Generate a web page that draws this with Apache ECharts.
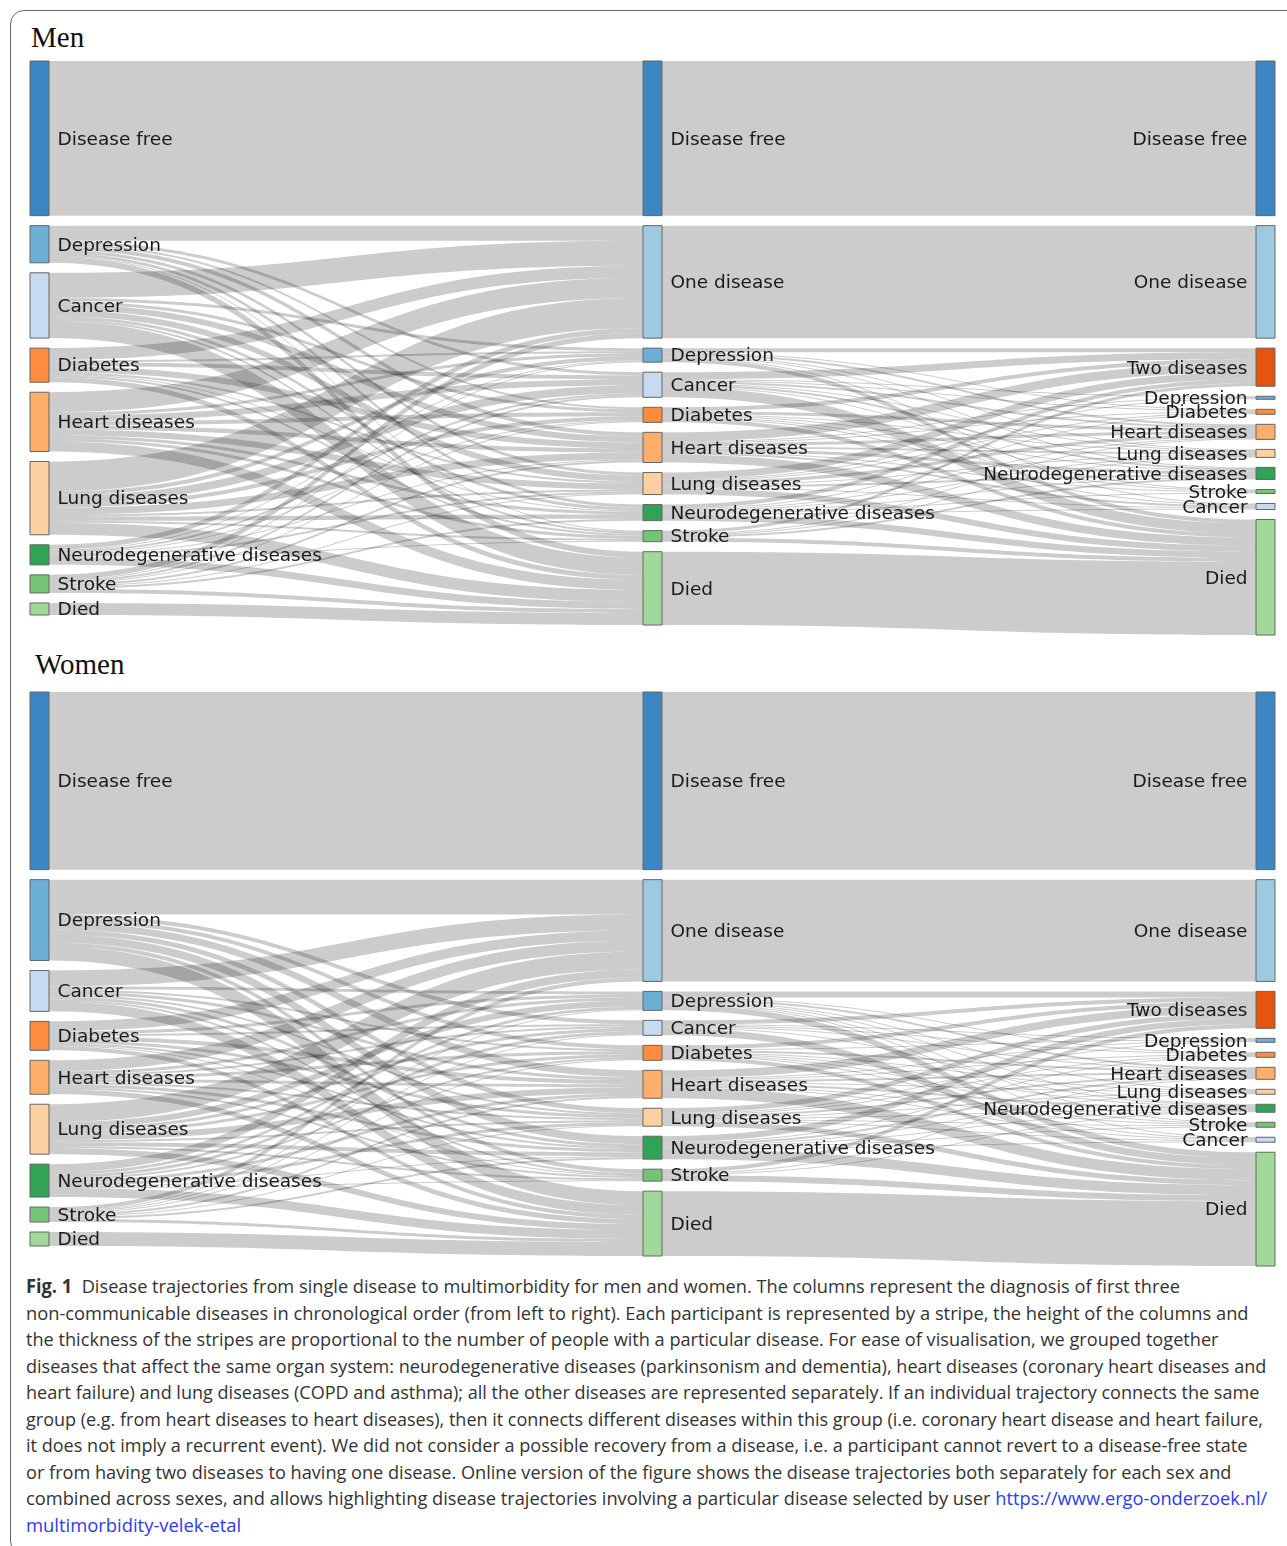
<!DOCTYPE html>
<html lang="en">
<head>
<meta charset="UTF-8">
<title>Disease trajectories</title>
<script src="https://cdn.jsdelivr.net/npm/echarts@6/dist/echarts.min.js"></script>
<style>
    body { margin: 0; background: #fff; width: 1287px; height: 1546px; position: relative; overflow: hidden; }
    .frame { position: absolute; left: 10px; top: 10px; width: 1330px; height: 1545px; border: 1.5px solid #666;
             border-radius: 14px; box-sizing: border-box; }
    .title { position: absolute; font-family: "Liberation Serif", serif; font-size: 29px; color: #111; line-height: 1; }
    #chart { position: absolute; left: 0; top: 0; width: 1287px; height: 1270px; }
    .caption { position: absolute; left: 26px; top: 1273px; font-family: "Open Sans", sans-serif; font-size: 19px;
               line-height: 26.5px; color: #333; white-space: nowrap; }
    .caption div { transform-origin: 0 50%; }
    .caption a { color: #2b3bef; text-decoration: none; }
</style>
</head>
<body>
<div class="frame"></div>
<div class="title" style="left:31px;top:23px">Men</div>
<div class="title" style="left:35px;top:650px">Women</div>
<div id="chart"></div>
<div class="caption" id="caption">
    <div data-w="1154"><span><b>Fig. 1</b>&nbsp; Disease trajectories from single disease to multimorbidity for men and women. The columns represent the diagnosis of first three</span></div>
    <div data-w="1223"><span>non-communicable diseases in chronological order (from left to right). Each participant is represented by a stripe, the height of the columns and</span></div>
    <div data-w="1193"><span>the thickness of the stripes are proportional to the number of people with a particular disease. For ease of visualisation, we grouped together</span></div>
    <div data-w="1240"><span>diseases that affect the same organ system: neurodegenerative diseases (parkinsonism and dementia), heart diseases (coronary heart diseases and</span></div>
    <div data-w="1233"><span>heart failure) and lung diseases (COPD and asthma); all the other diseases are represented separately. If an individual trajectory connects the same</span></div>
    <div data-w="1237"><span>group (e.g. from heart diseases to heart diseases), then it connects different diseases within this group (i.e. coronary heart disease and heart failure,</span></div>
    <div data-w="1221"><span>it does not imply a recurrent event). We did not consider a possible recovery from a disease, i.e. a participant cannot revert to a disease-free state</span></div>
    <div data-w="1205"><span>or from having two diseases to having one disease. Online version of the figure shows the disease trajectories both separately for each sex and</span></div>
    <div data-w="1241"><span>combined across sexes, and allows highlighting disease trajectories involving a particular disease selected by user <a href="#">https://www.ergo-onderzoek.nl/</a></span></div>
    <div data-w="215"><span><a href="#">multimorbidity-velek-etal</a></span></div>
</div>
<script>
// column contents, top to bottom
var col1Names = ['Disease free', 'Depression', 'Cancer', 'Diabetes', 'Heart diseases', 'Lung diseases',
    'Neurodegenerative diseases', 'Stroke', 'Died'];
var col2Names = ['Disease free', 'One disease', 'Depression', 'Cancer', 'Diabetes', 'Heart diseases', 'Lung diseases',
    'Neurodegenerative diseases', 'Stroke', 'Died'];
var col3Names = ['Disease free', 'One disease', 'Two diseases', 'Depression', 'Diabetes', 'Heart diseases',
    'Lung diseases', 'Neurodegenerative diseases', 'Stroke', 'Cancer', 'Died'];

var nodeColors = {
    'Disease free': '#3c87c3', 'Depression': '#6baed6', 'One disease': '#9ecae1', 'Cancer': '#c6dbef',
    'Two diseases': '#e6550d', 'Diabetes': '#fd8d3c', 'Heart diseases': '#fdae6b', 'Lung diseases': '#fdd0a2',
    'Neurodegenerative diseases': '#31a354', 'Stroke': '#74c476', 'Died': '#a1d99b'
};

// ---- Men ----
var menFree = 154;
var menDiedFirst = 12;
// rows: first disease (Depression .. Stroke)
// cols: One disease, Depression, Cancer, Diabetes, Heart, Lung, Neuro, Stroke, Died
var menStep1 = [
    [15, 0, 3, 2, 4, 3, 3, 1, 6],
    [25, 3, 0, 3, 6, 6, 3, 2, 17],
    [12, 2, 4, 0, 6, 2, 1, 2, 5],
    [20, 3, 6, 4, 4, 6, 3, 3, 10],
    [30, 4, 8, 4, 7, 2, 4, 2, 12],
    [5, 1, 2, 1, 1, 2, 0, 1, 7],
    [5, 1, 2, 1, 2, 1, 2, 0, 4]
];
// rows: second disease (Depression .. Stroke)
// cols: Two diseases, Depression, Diabetes, Heart, Lung, Neuro, Stroke, Cancer, Died
var menStep2 = [
    [4, 0, 1, 2, 1, 1, 0, 1, 4],
    [7, 1, 1, 2, 1, 2, 1, 0, 10],
    [4, 0, 0, 3, 1, 1, 1, 1, 4],
    [9, 1, 1, 3, 2, 3, 1, 2, 8],
    [7, 1, 1, 3, 1, 2, 0, 1, 6],
    [4, 0, 1, 1, 1, 1, 1, 1, 6],
    [3, 0, 0, 1, 1, 2, 0, 0, 4]
];

// ---- Women ----
var womenFree = 178;
var womenDiedFirst = 14;
var womenStep1 = [
    [35, 0, 4, 4, 7, 5, 8, 4, 14],
    [16, 3, 0, 2, 3, 2, 3, 2, 10],
    [10, 3, 2, 0, 4, 3, 2, 1, 4],
    [11, 3, 2, 3, 3, 2, 3, 2, 5],
    [18, 6, 3, 3, 6, 2, 4, 2, 6],
    [8, 3, 3, 2, 3, 3, 1, 1, 9],
    [4, 1, 1, 1, 2, 1, 2, 0, 3]
];
var womenStep2 = [
    [6, 0, 1, 2, 1, 1, 1, 1, 6],
    [4, 1, 1, 1, 0, 1, 0, 0, 7],
    [4, 1, 0, 2, 1, 1, 1, 1, 4],
    [8, 1, 1, 2, 1, 2, 1, 1, 11],
    [5, 1, 1, 2, 1, 1, 1, 1, 5],
    [6, 0, 1, 2, 1, 1, 1, 1, 10],
    [4, 0, 0, 1, 0, 1, 0, 0, 6]
];

function key(col, name) { return col + ':' + name; }

function buildSankey(free, diedFirst, step1, step2) {
    var nodes = [], links = [];
    col1Names.forEach(function (n) { nodes.push({ name: key(1, n), itemStyle: { color: nodeColors[n] } }); });
    col2Names.forEach(function (n) { nodes.push({ name: key(2, n), itemStyle: { color: nodeColors[n] } }); });
    col3Names.forEach(function (n) {
        nodes.push({ name: key(3, n), itemStyle: { color: nodeColors[n] }, label: { position: 'left', distance: 8 } });
    });

    links.push({ source: key(1, 'Disease free'), target: key(2, 'Disease free'), value: free });
    links.push({ source: key(2, 'Disease free'), target: key(3, 'Disease free'), value: free });
    links.push({ source: key(1, 'Died'), target: key(2, 'Died'), value: diedFirst });

    var oneTotal = 0, diedTotal = diedFirst;
    step1.forEach(function (row, i) {
        row.forEach(function (v, j) {
            if (!v) return;
            var tgt = col2Names[j + 1];
            links.push({ source: key(1, col1Names[i + 1]), target: key(2, tgt), value: v });
            if (tgt === 'One disease') oneTotal += v;
            if (tgt === 'Died') diedTotal += v;
        });
    });
    links.push({ source: key(2, 'One disease'), target: key(3, 'One disease'), value: oneTotal });
    links.push({ source: key(2, 'Died'), target: key(3, 'Died'), value: diedTotal });

    step2.forEach(function (row, i) {
        row.forEach(function (v, j) {
            if (!v) return;
            links.push({ source: key(2, col2Names[i + 2]), target: key(3, col3Names[j + 2]), value: v });
        });
    });
    return { nodes: nodes, links: links };
}

function sankeySeries(top, data) {
    return {
        type: 'sankey',
        left: 30, right: 12, top: top, height: 574,
        nodeWidth: 19,
        nodeGap: 10,
        layoutIterations: 0,
        draggable: false,
        emphasis: { disabled: true },
        data: data.nodes,
        links: data.links,
        itemStyle: { borderColor: '#666', borderWidth: 1 },
        lineStyle: { color: '#000', opacity: 0.2, curveness: 0.5 },
        label: {
            position: 'right', distance: 8, offset: [0, 1.5],
            color: '#1a1a1a', fontFamily: 'DejaVu Sans', fontSize: 18.5,
            formatter: function (p) { return p.name.split(':')[1]; }
        }
    };
}

var myChart = echarts.init(document.getElementById('chart'));
var option = {
    animation: false,
    series: [
        sankeySeries(61, buildSankey(menFree, menDiedFirst, menStep1, menStep2)),
        sankeySeries(692, buildSankey(womenFree, womenDiedFirst, womenStep1, womenStep2))
    ]
};
myChart.setOption(option);

// squeeze each caption line to its printed width
function fitCaption() {
    document.querySelectorAll('#caption div').forEach(function (d) {
        var w = d.querySelector('span').offsetWidth;
        d.style.transform = 'scaleX(' + (+d.getAttribute('data-w') / w) + ')';
    });
}
fitCaption();
if (document.fonts) document.fonts.ready.then(fitCaption);
</script>
</body>
</html>
